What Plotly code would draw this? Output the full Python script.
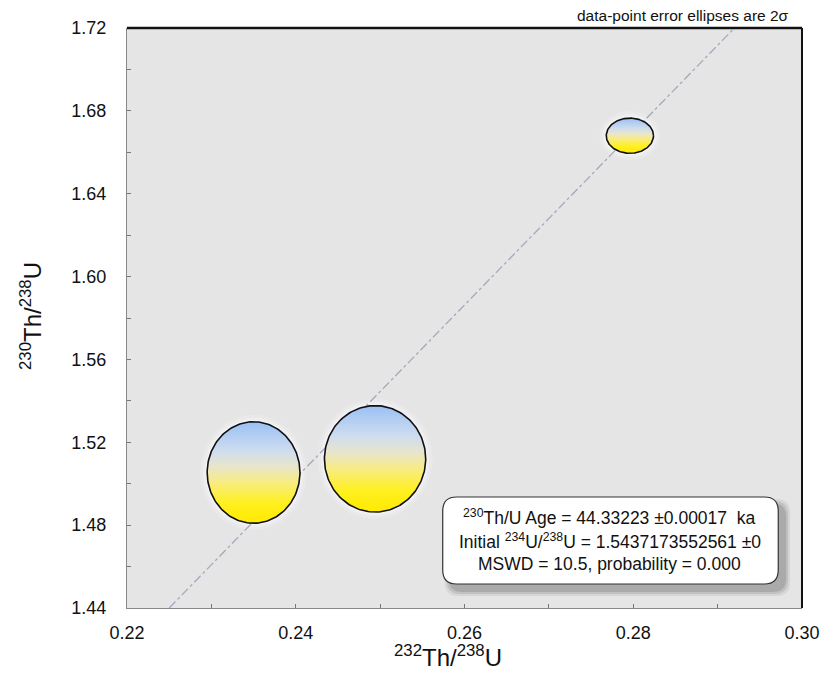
import numpy as np
import plotly.graph_objects as go

# ---- data ----
ell_x = [0.2350, 0.2494, 0.2796]      # 232Th/238U centres
ell_y = [1.5054, 1.5120, 1.6680]      # 230Th/238U centres
ell_sx = [0.0055, 0.0060, 0.0028]     # 2-sigma half widths
ell_sy = [0.0245, 0.0257, 0.0085]     # 2-sigma half heights
iso_x = [0.2250, 0.2920]
iso_y = [1.4400, 1.7200]
x_ticks = [0.22, 0.24, 0.26, 0.28, 0.30]
y_ticks = [1.44, 1.48, 1.52, 1.56, 1.60, 1.64, 1.68, 1.72]
box_lines = ["<sup>230</sup>Th/U Age = 44.33223 ±0.00017  ka",
             "Initial <sup>234</sup>U/<sup>238</sup>U = 1.5437173552561 ±0",
             "MSWD = 10.5, probability = 0.000"]

W, H = 832, 674
L, R, T, B = 127, 23, 28, 66
pw, ph = W - L - R, H - T - B
XR, YR = (0.22, 0.30), (1.44, 1.72)
px_x = (XR[1] - XR[0]) / pw
px_y = (YR[1] - YR[0]) / ph
FONT = "Liberation Sans, Arial, sans-serif"

fig = go.Figure()

t = np.linspace(0, 2 * np.pi, 181)
# halos
for cx, cy, sx, sy in zip(ell_x, ell_y, ell_sx, ell_sy):
    for k, op in [(7, 0.2), (4, 0.35), (2, 0.5)]:
        fig.add_trace(go.Scatter(
            x=cx + (sx + k * px_x) * np.cos(t), y=cy + (sy + k * px_y) * np.sin(t),
            mode="lines", fill="toself", fillcolor=f"rgba(250,248,255,{op})",
            line=dict(width=0), hoverinfo="skip", showlegend=False))

# isochron
fig.add_trace(go.Scatter(x=iso_x, y=iso_y, mode="lines",
                         line=dict(color="#a4a8bc", width=1.3, dash="dashdot"),
                         hoverinfo="skip", showlegend=False))

cs = [[0.0, "#ffea00"], [0.2, "#fff020"], [0.4, "#f8ec80"],
      [0.56, "#e8e5cc"], [0.72, "#cddcef"], [1.0, "#9ac0f4"]]
for cx, cy, sx, sy in zip(ell_x, ell_y, ell_sx, ell_sy):
    fig.add_trace(go.Scatter(
        x=cx + sx * np.cos(t), y=cy + sy * np.sin(t),
        mode="lines", fill="toself",
        fillgradient=dict(type="vertical", colorscale=cs),
        line=dict(color="#111111", width=1.6),
        hoverinfo="skip", showlegend=False))

# ---- text box (paper coords) ----
def px2paper(x, y):
    return (x - L) / pw, (T + ph - y) / ph

def rrect(x0, y0, x1, y1, r):
    rx, ry = r / pw, r / ph
    a0, b1 = px2paper(x0, y0)
    a1, b0 = px2paper(x1, y1)
    return (f"M {a0+rx},{b1} L {a1-rx},{b1} Q {a1},{b1} {a1},{b1-ry} "
            f"L {a1},{b0+ry} Q {a1},{b0} {a1-rx},{b0} L {a0+rx},{b0} "
            f"Q {a0},{b0} {a0},{b0+ry} L {a0},{b1-ry} Q {a0},{b1} {a0+rx},{b1} Z")

shapes = []
bx0, by0, bx1, by1 = 446, 497, 785, 584
for k, op in [(5, 0.10), (3, 0.16), (1, 0.22)]:
    shapes.append(dict(type="path", xref="paper", yref="paper",
                       path=rrect(bx0 + 7 - k, by0 + 7 - k, bx1 + 7 + k, by1 + 7 + k, 14),
                       fillcolor=f"rgba(90,90,90,{op})", line=dict(width=0), layer="above"))
shapes.append(dict(type="path", xref="paper", yref="paper",
                   path=rrect(bx0, by0, bx1, by1, 14),
                   fillcolor="white", line=dict(color="#333333", width=1.2), layer="above"))
# frame: top and right dark
shapes.append(dict(type="line", xref="paper", yref="paper", x0=0, x1=1, y0=1, y1=1,
                   line=dict(color="#111111", width=2.5), layer="above"))
shapes.append(dict(type="line", xref="paper", yref="paper", x0=1, x1=1, y0=0, y1=1,
                   line=dict(color="#111111", width=2), layer="above"))

annotations = []
for txt, py in zip(box_lines, [517, 541, 564]):
    xx, yy = px2paper(615, py)
    annotations.append(dict(x=xx, y=yy, xref="paper", yref="paper", text=txt,
                            showarrow=False, xanchor="center", yanchor="middle",
                            font=dict(size=17.5, color="#111111", family=FONT)))
xx, yy = px2paper(798, 15)
annotations.append(dict(x=xx, y=yy, xref="paper", yref="paper",
                        text="data-point error ellipses are 2σ", showarrow=False,
                        xanchor="right", yanchor="middle",
                        font=dict(size=15.5, color="#111111", family=FONT)))
xx, yy = px2paper(451, 656)
annotations.append(dict(x=xx, y=yy, xref="paper", yref="paper",
                        text="<sup>232</sup>Th/<sup>238</sup>U", showarrow=False,
                        xanchor="center", yanchor="middle",
                        font=dict(size=24, color="#111111", family=FONT)))
xx, yy = px2paper(30, 316)
annotations.append(dict(x=xx, y=yy, xref="paper", yref="paper",
                        text="<sup>230</sup>Th/<sup>238</sup>U", showarrow=False,
                        textangle=-90, xanchor="center", yanchor="middle",
                        font=dict(size=24, color="#111111", family=FONT)))

axfont = dict(size=18, color="#111111", family=FONT)
fig.update_layout(
    width=W, height=H, margin=dict(l=L, r=R, t=T, b=B),
    paper_bgcolor="white", plot_bgcolor="#e5e5e5",
    shapes=shapes, annotations=annotations, showlegend=False,
    xaxis=dict(range=list(XR), tickvals=x_ticks, ticktext=[f"{v:.2f}" for v in x_ticks],
               showgrid=False, zeroline=False, ticks="inside", ticklen=4,
               tickcolor="#777777", showline=True, linecolor="#888888", linewidth=1,
               tickfont=axfont, ticklabelstandoff=8,
               minor=dict(dtick=0.01, tick0=0.22, ticks="inside", ticklen=4,
                          tickcolor="#777777", showgrid=False)),
    yaxis=dict(range=list(YR), tickvals=y_ticks, ticktext=[f"{v:.2f}" for v in y_ticks],
               showgrid=False, zeroline=False, ticks="inside", ticklen=4,
               tickcolor="#777777", showline=True, linecolor="#888888", linewidth=1,
               tickfont=axfont, ticklabelstandoff=16,
               minor=dict(dtick=0.02, tick0=1.44, ticks="inside", ticklen=4,
                          tickcolor="#777777", showgrid=False)),
)
fig.write_html("out.html")
